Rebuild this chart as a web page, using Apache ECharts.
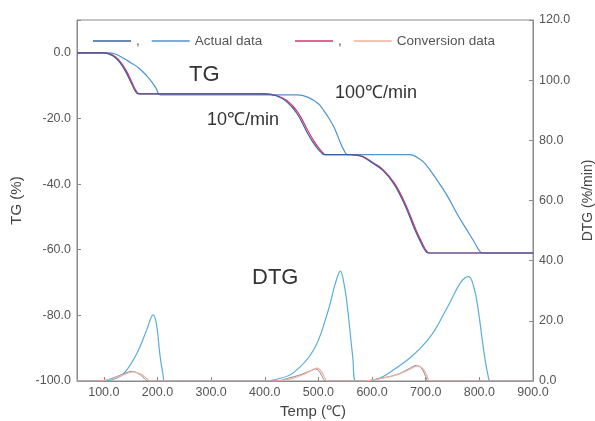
<!DOCTYPE html>
<html>
<head>
<meta charset="utf-8">
<script src="https://cdn.jsdelivr.net/npm/echarts@6/dist/echarts.min.js"></script>
<style>
  html, body { margin: 0; padding: 0; background: #fff; }
  #main { width: 595px; height: 421px; }
</style>
</head>
<body>
<div id="main"></div>
<script>
// x ticks
const tempTicks = [100, 200, 300, 400, 500, 600, 700, 800, 900];

// TG, 10 C/min actual (dark blue)
const tgTemp10 = [50, 100, 110, 120, 130, 140, 150, 158, 164, 300, 400, 420, 440, 460, 480, 490, 500, 506, 511, 560, 580, 600, 620, 640, 660, 680, 690, 698, 705, 900];
const tgActual10 = [0, 0, -0.4, -1.3, -3, -5.5, -8.8, -11.5, -12.5, -12.5, -12.5, -13, -14.8, -18.5, -24.6, -27.3, -29.5, -30.5, -31, -31, -31.5, -33.5, -35.8, -39.8, -46, -54, -57.5, -60, -61, -61];

// TG, 10 C/min conversion (magenta)
const tgTempC10 = [50, 100, 112, 122, 132, 142, 152, 160, 167, 300, 400, 422, 442, 462, 482, 492, 502, 508, 513, 560, 582, 602, 622, 642, 662, 682, 692, 700, 707, 900];
const tgConv10 = [0, 0, -0.4, -1.3, -3, -5.5, -8.8, -11.5, -12.5, -12.5, -12.5, -13, -14.6, -18.2, -24.2, -27, -29.3, -30.4, -31, -31, -31.5, -33.5, -35.8, -39.8, -46, -54, -57.5, -60, -61, -61];

// TG, 100 C/min actual (light blue)
const tgTemp100 = [50, 110, 120, 135, 150, 165, 180, 190, 198, 205, 400, 460, 480, 500, 510, 520, 530, 540, 548, 554, 670, 690, 700, 720, 740, 760, 775, 790, 800, 806, 900];
const tgActual100 = [0, 0, -0.3, -1.5, -3, -4.6, -7, -9, -11, -12.8, -12.8, -12.8, -13.5, -15.5, -17.6, -20, -23, -27, -29.8, -31, -31, -32.5, -34, -38.5, -43.5, -49.5, -53.5, -57.5, -60.3, -61, -61];

// DTG, 100 C/min actual (light blue)
const dtgTemp100 = [50, 100, 125, 140, 162, 180, 192, 198, 205, 210, 214, 400, 420, 453, 491, 517, 532, 541, 548, 554, 564, 570, 590, 640, 704, 741, 765, 780, 790, 797, 808, 816, 821, 900];
const dtgActual100 = [0, 0, 1, 3, 9.3, 17, 22, 19, 8, 2.5, 0, 0, 0.5, 2.7, 10.3, 22.7, 32.7, 36.5, 32, 24.7, 8, 0, 0, 3.7, 13.7, 24.7, 32.7, 34.7, 31, 24.7, 10.3, 2, 0, 0];

// DTG, 10 C/min actual (dark blue)
const dtgTemp10 = [50, 95, 120, 140, 152, 165, 176, 182, 420, 445, 465, 485, 495, 503, 509, 513, 580, 620, 650, 670, 683, 693, 700, 705, 900];
const dtgActual10 = [0, 0, 1.2, 2.6, 3.2, 2.4, 0.8, 0, 0, 1, 2, 3.4, 4, 2.8, 0.8, 0, 0, 1, 2.4, 4.2, 5.2, 4, 1.5, 0, 0];

// DTG, conversion (light orange)
const dtgTempC = [50, 90, 120, 140, 155, 170, 180, 186, 420, 450, 470, 488, 498, 506, 512, 516, 580, 620, 650, 672, 685, 695, 703, 708, 900];
const dtgConv = [0, 0, 1, 2.3, 3, 2.2, 0.8, 0, 0, 0.8, 2, 3.6, 4.3, 3, 1, 0, 0, 1, 2.3, 4, 5, 4, 1.5, 0, 0];

const zip = (xs, ys) => xs.map((x, i) => [x, ys[i]]);

const axisGrey = '#8a8a8a';
const labelColor = '#555';
const font = 'Liberation Sans';

function line(name, color, xs, ys, yAxisIndex, width, z) {
  return {
    name: name,
    type: 'line',
    yAxisIndex: yAxisIndex,
    data: zip(xs, ys),
    symbol: 'none',
    smooth: 0.4,
    z: z || 2,
    lineStyle: { color: color, width: width || 1.2 },
    itemStyle: { color: color }
  };
}

const legendNames = { A10: ',', A100: 'Actual data', C10: ',', C100: 'Conversion data' };
const legendBase = {
  top: 29, itemWidth: 38, itemHeight: 1.6, itemGap: 12, icon: 'rect',
  formatter: n => legendNames[n], textStyle: { fontSize: 13.5, color: labelColor }
};

let chart = echarts.init(document.getElementById('main'));
let option = {
  animation: false,
  textStyle: { fontFamily: font },
  grid: {
    left: 77, right: 62, top: 20, bottom: 40, outerBoundsMode: 'none',
    show: true, borderColor: axisGrey, borderWidth: 1
  },
  legend: [
    Object.assign({ data: ['A10', 'A100'], left: 88 }, legendBase),
    Object.assign({ data: ['C10', 'C100'], left: 290 }, legendBase)
  ],
  xAxis: {
    type: 'value', min: 50, max: 900,
    name: 'Temp (\u2103)', nameLocation: 'middle', nameGap: 21,
    nameTextStyle: { fontSize: 15, color: '#444', padding: [0, 0, 0, 16] },
    axisLine: { onZero: false, lineStyle: { color: axisGrey } },
    axisTick: { inside: true, length: 4, customValues: tempTicks, lineStyle: { color: axisGrey } },
    axisLabel: { customValues: tempTicks, formatter: v => v.toFixed(1), fontSize: 12.5, color: labelColor, margin: 5 },
    splitLine: { show: false }
  },
  yAxis: [
    {
      type: 'value', min: -100, max: 10, interval: 20,
      name: 'TG (%)', nameLocation: 'middle', nameGap: 51, nameRotate: 90,
      nameTextStyle: { fontSize: 15, color: '#444' },
      axisLine: { show: true, onZero: false, lineStyle: { color: axisGrey } },
      axisTick: { show: true, inside: true, length: 4, lineStyle: { color: axisGrey } },
      axisLabel: { formatter: v => (v % 20 === 0 ? v.toFixed(1) : ''), fontSize: 12.5, color: labelColor, margin: 6 },
      splitLine: { show: false }
    },
    {
      type: 'value', min: 0, max: 120, interval: 20, position: 'right',
      name: 'DTG (%/min)', nameLocation: 'middle', nameGap: 46, nameRotate: 90,
      nameTextStyle: { fontSize: 14, color: '#444' },
      axisLine: { show: true, onZero: false, lineStyle: { color: axisGrey } },
      axisTick: { show: true, inside: true, length: 4, lineStyle: { color: axisGrey } },
      axisLabel: { formatter: v => v.toFixed(1), fontSize: 12.5, color: labelColor, margin: 6 },
      splitLine: { show: false }
    }
  ],
  graphic: [
    { type: 'text', left: 189, top: 64, style: { text: 'TG', fontSize: 22, fill: '#333', fontFamily: font } },
    { type: 'text', left: 335, top: 84, style: { text: '100\u2103/min', fontSize: 18, fill: '#333', fontFamily: font } },
    { type: 'text', left: 207, top: 111, style: { text: '10\u2103/min', fontSize: 18, fill: '#333', fontFamily: font } },
    { type: 'text', left: 252, top: 267, style: { text: 'DTG', fontSize: 22, fill: '#333', fontFamily: font } }
  ],
  series: [
    line('A10', '#3d5f9e', tgTemp10, tgActual10, 0, 1.2, 3),
    line('A100', '#4f93cf', tgTemp100, tgActual100, 0),
    line('C10', '#d4356e', tgTempC10, tgConv10, 0),
    line('C100', '#f2b09a', dtgTempC, dtgConv, 1, 1.2, 3),
    line('A100', '#5aaedc', dtgTemp100, dtgActual100, 1),
    line('A10', '#7a8aa8', dtgTemp10, dtgActual10, 1, 1)
  ]
};
chart.setOption(option);
window.addEventListener('resize', chart.resize);
</script>
</body>
</html>
